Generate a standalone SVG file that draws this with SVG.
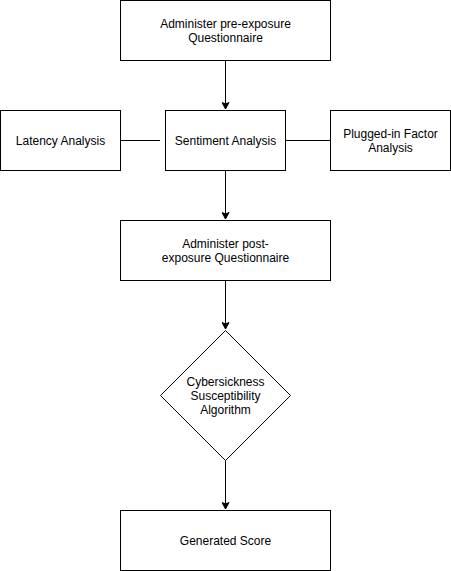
<svg xmlns="http://www.w3.org/2000/svg" width="451" height="571" viewBox="0 0 451 571">
<style>
.n{fill:#fff;stroke:#000;stroke-width:1}
.t{font-family:"Liberation Sans",Arial,sans-serif;font-size:12px;fill:#000;text-anchor:middle}
.c{fill:none;stroke:#000;stroke-width:1}
</style>
<defs>
<marker id="a" markerWidth="8" markerHeight="8" refX="7" refY="4" orient="auto" markerUnits="userSpaceOnUse">
<path d="M0.5,0.5 L7,4 L0.5,7.5 L2,4 Z" fill="#000" stroke="#000" stroke-width="1"/>
</marker>
</defs>
<rect width="451" height="571" fill="#fff"/>
<g id="connectors">
<path class="c" d="M225.5,60.5 V109" marker-end="url(#a)"/>
<path class="c" d="M120.5,140.5 H160"/>
<path class="c" d="M285.5,140.5 H330.5"/>
<path class="c" d="M225.5,170.5 V219" marker-end="url(#a)"/>
<path class="c" d="M225.5,280.5 V329" marker-end="url(#a)"/>
<path class="c" d="M225.5,460.5 V509" marker-end="url(#a)"/>
</g>
<g id="pre">
<rect class="n" x="120.5" y="0.5" width="210" height="60"/>
<text class="t" x="225.5" y="28">Administer pre-exposure</text>
<text class="t" x="225.5" y="42">Questionnaire</text>
</g>
<g id="latency">
<rect class="n" x="0.5" y="110.5" width="120" height="60"/>
<text class="t" x="60.5" y="145">Latency Analysis</text>
</g>
<g id="sentiment">
<rect class="n" x="165.5" y="110.5" width="120" height="60"/>
<text class="t" x="225.5" y="145">Sentiment Analysis</text>
</g>
<g id="plugged">
<rect class="n" x="330.5" y="110.5" width="120" height="60"/>
<text class="t" x="390.5" y="138">Plugged-in Factor</text>
<text class="t" x="390.5" y="152">Analysis</text>
</g>
<g id="post">
<rect class="n" x="120.5" y="220.5" width="210" height="60"/>
<text class="t" x="225.5" y="248">Administer post-</text>
<text class="t" x="225.5" y="262">exposure Questionnaire</text>
</g>
<g id="algorithm">
<path class="n" d="M225.5,330.5 L290.5,395.5 L225.5,460.5 L160.5,395.5 Z"/>
<text class="t" x="225.5" y="386">Cybersickness</text>
<text class="t" x="225.5" y="400">Susceptibility</text>
<text class="t" x="225.5" y="414">Algorithm</text>
</g>
<g id="score">
<rect class="n" x="120.5" y="510.5" width="210" height="60"/>
<text class="t" x="225.5" y="545">Generated Score</text>
</g>
</svg>
